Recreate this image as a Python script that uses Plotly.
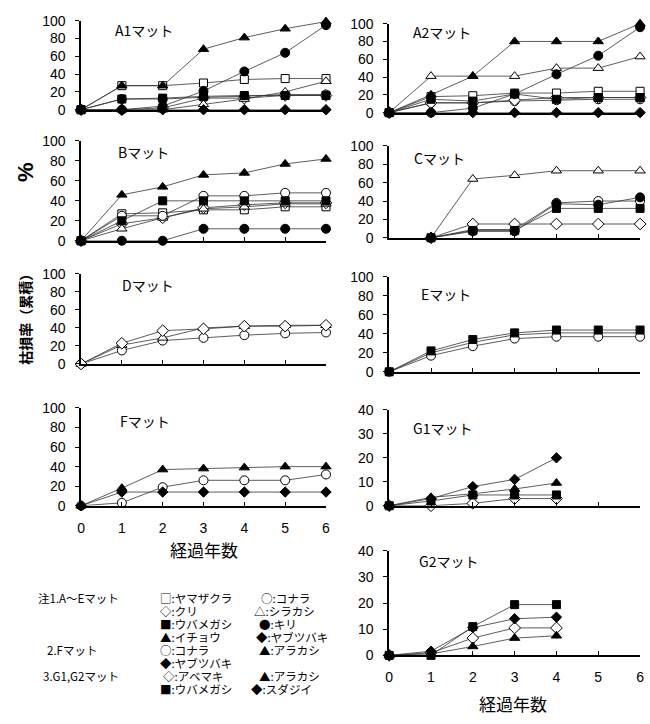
import plotly.graph_objects as go

# ---------------- data ----------------
YEARS = [0, 1, 2, 3, 4, 5, 6]
YEARS_C = [1, 2, 3, 4, 5, 6]
YEARS_G = [0, 1, 2, 3, 4]

# A1 mat
A1_yamazakura = [0, 27, 27, 30, 34, 35, 35]
A1_konara = [0, 12, 12, 14, 15, 17, 17]
A1_kuri = [0, 0, 2, 13, 13, 16, 16]
A1_shirakashi = [0, 0, 0, 6, 12, 20, 32]
A1_ubamegashi = [0, 12, 13, 15, 16, 16, 16]
A1_kiri = [0, 0, 4, 21, 43, 64, 95]
A1_icho = [0, 27, 27, 68, 81, 91, 99]
A1_yabutsubaki = [0, 0, 0, 0, 0, 0, 0]
# A2 mat
A2_yamazakura = [0, 18, 19, 22, 22, 24, 24]
A2_konara = [0, 11, 11, 13, 14, 15, 15]
A2_kuri = [0, 11, 11, 14, 17, 17, 17]
A2_shirakashi = [0, 41, 41, 41, 50, 50, 63]
A2_ubamegashi = [0, 15, 13, 21, 15, 17, 17]
A2_kiri = [0, 0, 5, 21, 43, 64, 96]
A2_icho = [0, 20, 41, 80, 80, 80, 100]
A2_yabutsubaki = [0, 0, 0, 0, 0, 0, 0]
# B mat
B_yamazakura = [0, 27, 28, 31, 31, 34, 34]
B_konara = [0, 25, 25, 45, 45, 48, 48]
B_kuri = [0, 17, 23, 33, 36, 38, 38]
B_shirakashi = [0, 12, 23, 32, 34, 37, 37]
B_ubamegashi = [0, 20, 40, 40, 40, 40, 40]
B_kiri = [0, 0, 0, 12, 12, 12, 12]
B_icho = [0, 46, 54, 66, 68, 77, 82]
# C mat (from year 1)
C_konara = [0, 9, 9, 38, 40, 40]
C_kuri = [0, 15, 15, 15, 15, 15]
C_shirakashi = [0, 64, 68, 73, 73, 73]
C_ubamegashi = [0, 8, 8, 32, 32, 32]
C_kiri = [0, 7, 7, 37, 36, 44]
# D mat
D_konara = [0, 15, 26, 29, 32, 34, 35]
D_kuri = [0, 23, 37, 39, 42, 42, 43]
D_shirakashi = [0, 21, 29, 40, 42, 43, 43]
# E mat
E_konara = [0, 17, 27, 35, 37, 37, 37]
E_other = [0, 20, 31, 39, 41, 41, 41]
E_ubamegashi = [0, 22, 34, 41, 44, 44, 44]
# F mat
F_konara = [0, 3, 19, 26, 26, 26, 32]
F_arakashi = [0, 18, 37, 38, 39, 40, 40]
F_yabutsubaki = [0, 14, 14, 14, 14, 14, 14]
# G1 mat
G1_abemaki = [0, 0, 1, 3, 3]
G1_arakashi = [0, 3.5, 5, 7, 9.5]
G1_ubamegashi = [0, 2, 4.5, 4.5, 4.5]
G1_sudajii = [0, 3, 8, 11, 20]
# G2 mat
G2_abemaki = [0, 1, 6.6, 10.5, 10.5]
G2_arakashi = [0, 0.6, 3.4, 6.6, 7.5]
G2_ubamegashi = [0, 0, 11, 19.4, 19.4]
G2_sudajii = [0, 1.6, 10.6, 14, 14.6]

PANEL_TITLES = ["A1マット", "A2マット", "Bマット", "Cマット", "Dマット",
                "Eマット", "Fマット", "G1マット", "G2マット"]
Y_TICKS_100 = [0, 20, 40, 60, 80, 100]
Y_TICKS_40 = [0, 10, 20, 30, 40]
X_TICKS = [0, 1, 2, 3, 4, 5, 6]
X_TITLE = "経過年数"
Y_TITLE_1 = "%"
Y_TITLE_2 = "枯損率（累積）"

LEGEND_ROWS = [
    ["注1.A～Eマット", "□:ヤマザクラ", "○:コナラ"],
    ["", "◇:クリ", "△:シラカシ"],
    ["", "■:ウバメガシ", "●:キリ"],
    ["", "▲:イチョウ", "◆:ヤブツバキ"],
    ["2.Fマット", "○:コナラ", "▲:アラカシ"],
    ["", "◆:ヤブツバキ", ""],
    ["3.G1,G2マット", "◇:アベマキ", "▲:アラカシ"],
    ["", "■:ウバメガシ", "◆:スダジイ"],
]

# ---------------- styles ----------------
W, H = 650, 724
SYM = {  # symbol, filled, size
    "sq_o": ("square", False, 8), "ci_o": ("circle", False, 9),
    "di_o": ("diamond", False, 9), "tr_o": ("triangle-up", False, 9),
    "sq_f": ("square", True, 8), "ci_f": ("circle", True, 9),
    "tr_f": ("triangle-up", True, 9), "di_f": ("diamond", True, 8),
    "none": ("circle", False, 0),
}

panels = [
    (YEARS, [(A1_yamazakura, "sq_o"), (A1_konara, "ci_o"), (A1_kuri, "di_o"),
             (A1_shirakashi, "tr_o"), (A1_ubamegashi, "sq_f"), (A1_kiri, "ci_f"),
             (A1_icho, "tr_f"), (A1_yabutsubaki, "di_f")], "L", (104, 13), 100),
    (YEARS, [(A2_konara, "ci_o"), (A2_kuri, "di_o"), (A2_yamazakura, "sq_o"),
             (A2_shirakashi, "tr_o"), (A2_ubamegashi, "sq_f"), (A2_kiri, "ci_f"),
             (A2_icho, "tr_f"), (A2_yabutsubaki, "di_f")], "R", (107, 16), 100),
    (YEARS, [(B_yamazakura, "sq_o"), (B_kuri, "di_o"), (B_shirakashi, "tr_o"),
             (B_konara, "ci_o"), (B_ubamegashi, "sq_f"), (B_kiri, "ci_f"),
             (B_icho, "tr_f")], "L", (238, 136), 100),
    (YEARS_C, [(C_konara, "ci_o"), (C_kuri, "di_o"), (C_shirakashi, "tr_o"),
               (C_ubamegashi, "sq_f"), (C_kiri, "ci_f")], "R", (235, 141), 100),
    (YEARS, [(D_konara, "ci_o"), (D_shirakashi, "tr_o"), (D_kuri, "di_o")],
     "L", (364, 272), 100),
    (YEARS, [(E_other, "none"), (E_konara, "ci_o"), (E_ubamegashi, "sq_f")],
     "R", (372, 275), 100),
    (YEARS, [(F_konara, "ci_o"), (F_arakashi, "tr_f"), (F_yabutsubaki, "di_f")],
     "L", (509, 409), 100),
    (YEARS_G, [(G1_abemaki, "di_o"), (G1_ubamegashi, "sq_f"), (G1_arakashi, "tr_f"),
               (G1_sudajii, "di_f")], "R", (509, 411), 40),
    (YEARS_G, [(G2_abemaki, "di_o"), (G2_arakashi, "tr_f"), (G2_ubamegashi, "sq_f"),
               (G2_sudajii, "di_f")], "R", (662, 555), 40),
]
XDOM = {"L": (78, 326), "R": (390, 644)}
TITLE_POS = [(110, 23), (412, 25), (113, 147), (413, 153), (117, 283),
             (420, 292), (115, 422), (412, 430), (418, 566)]
SHOW_XLABELS = [False, False, False, False, False, False, True, False, True]

NUM_FONT = dict(family="Liberation Sans, Arial, sans-serif", size=14, color="black")
JP = "Noto Sans CJK JP, sans-serif"

fig = go.Figure()
layout = {}
annotations = []

for i, (xs, series, side, (yb, yt), ymax) in enumerate(panels):
    n = i + 1
    xa = "x" if n == 1 else f"x{n}"
    ya = "y" if n == 1 else f"y{n}"
    for vals, key in series:
        sym, filled, size = SYM[key]
        fig.add_trace(go.Scatter(
            x=xs, y=vals, xaxis=xa, yaxis=ya,
            mode="lines" if size == 0 else "lines+markers",
            line=dict(color="#333333", width=0.8),
            marker=dict(symbol=sym, size=max(size, 1),
                        color="black" if filled else "white",
                        line=dict(color="black", width=1)),
            cliponaxis=False, showlegend=False, hoverinfo="x+y"))
    x0, x1 = XDOM[side]
    layout["xaxis" if n == 1 else f"xaxis{n}"] = dict(
        domain=[x0 / W, x1 / W], anchor=ya, range=[0, 6],
        showline=True, linecolor="black", linewidth=2,
        ticks="inside", ticklen=4, tickwidth=1.2, tickcolor="black",
        tickvals=X_TICKS, showticklabels=SHOW_XLABELS[i],
        tickfont=NUM_FONT, ticklabelstandoff=8,
        showgrid=False, zeroline=False, fixedrange=True)
    layout["yaxis" if n == 1 else f"yaxis{n}"] = dict(
        domain=[1 - yb / H, 1 - yt / H], anchor=xa, range=[0, ymax],
        showline=True, linecolor="black", linewidth=1.5,
        ticks="outside", ticklen=4, tickwidth=1.2, tickcolor="black",
        tickvals=Y_TICKS_100 if ymax == 100 else Y_TICKS_40,
        tickfont=NUM_FONT, ticklabelstandoff=7,
        showgrid=False, zeroline=False, fixedrange=True)
    tx, ty = TITLE_POS[i]
    annotations.append(dict(text=PANEL_TITLES[i], x=tx / W, y=1 - ty / H,
                            xref="paper", yref="paper", xanchor="left", align="left",
                            yanchor="middle", showarrow=False,
                            font=dict(family=JP, size=14, color="black")))

# axis titles
annotations.append(dict(text="<b>" + Y_TITLE_1 + "</b>", x=22 / W, y=1 - 168 / H,
                        xref="paper", yref="paper", showarrow=False, textangle=-90,
                        font=dict(family="Liberation Sans, Arial", size=22,
                                  color="black"), xanchor="center", yanchor="middle"))
annotations.append(dict(text="<b>" + Y_TITLE_2 + "</b>", x=21 / W, y=1 - 315 / H,
                        xref="paper", yref="paper", showarrow=False, textangle=-90,
                        font=dict(family=JP, size=14, color="black"),
                        xanchor="center", yanchor="middle"))
for (cx, cy) in [(202, 554), (515, 711)]:
    annotations.append(dict(text=X_TITLE, x=cx / W, y=1 - cy / H, xref="paper",
                            yref="paper", showarrow=False,
                            font=dict(family=JP, size=17, color="black"),
                            xanchor="center", yanchor="middle"))

# notes / legend text
LABEL_X = {0: 33, 4: 43, 6: 38}
COL1_X = {6: 160}
COL2_X = {0: 259, 1: 252, 2: 257, 3: 254, 4: 257, 6: 257, 7: 249}
ROW_Y0, ROW_DY = 603, 13.3
for r, row in enumerate(LEGEND_ROWS):
    yy = 1 - (ROW_Y0 + ROW_DY * r) / H
    for c, txt in enumerate(row):
        if not txt:
            continue
        if c == 0:
            xx = LABEL_X.get(r, 33)
        elif c == 1:
            xx = COL1_X.get(r, 157)
        else:
            xx = COL2_X.get(r, 252)
        annotations.append(dict(text=txt, x=xx / W, y=yy, xref="paper", yref="paper",
                                xanchor="left", align="left", yanchor="middle",
                                showarrow=False, borderpad=0,
                                font=dict(family=JP, size=11.5, color="black")))

layout["annotations"] = annotations
fig.update_layout(**layout)
fig.update_layout(width=W, height=H, margin=dict(l=0, r=0, t=0, b=0),
                  paper_bgcolor="white", plot_bgcolor="white", showlegend=False)

fig.write_html("out.html")
